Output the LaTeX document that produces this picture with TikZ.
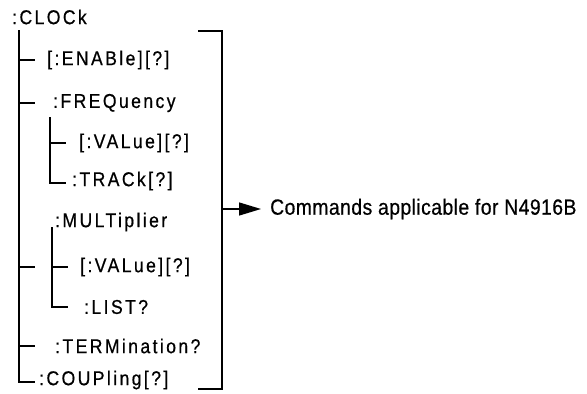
\documentclass[tikz,border=0pt]{standalone}
\usepackage{fontspec}
\setmainfont{Liberation Sans}
\newfontfamily\treefont{Liberation Sans}[LetterSpace=12,FakeStretch=0.88,FakeBold=0.6]
\newfontfamily\notefont{Liberation Sans}[LetterSpace=2,FakeStretch=0.88,FakeBold=0.6]
\usetikzlibrary{arrows.meta}
\begin{document}
\begin{tikzpicture}[x=1pt,y=-1pt,
  cmd/.style={anchor=west,inner sep=0pt,font=\treefont\fontsize{20}{22}\selectfont},
  branch/.style={line width=1.4pt},
  bracketline/.style={line width=2pt},
  note/.style={anchor=west,inner sep=0pt,font=\notefont\fontsize{22}{24}\selectfont}]
\useasboundingbox (0,0) rectangle (587,394);

% command labels
\node[cmd] (clock) at (12,17)  {:CLOCk};
\node[cmd] (enab)  at (47,60)  {[:ENABle][?]};
\node[cmd] (freq)  at (53,103) {:FREQuency};
\node[cmd] (fval)  at (79,143) {[:VALue][?]};
\node[cmd] (trac)  at (72,181) {:TRACk[?]};
\node[cmd] (mult)  at (55,222) {:MULTiplier};
\node[cmd] (mval)  at (80,267) {[:VALue][?]};
\node[cmd] (list)  at (84,307) {:LIST?};
\node[cmd] (term)  at (55,346) {:TERMination?};
\node[cmd] (coup)  at (39,380) {:COUPling[?]};

% main branch
\coordinate (t0) at (19,30);
\coordinate (t1) at (19,60);   \coordinate (e1) at (35,60);
\coordinate (t2) at (19,103);  \coordinate (e2) at (35,103);
\coordinate (t3) at (19,267);  \coordinate (e3) at (35,267);
\coordinate (t4) at (19,346);  \coordinate (e4) at (35,346);
\coordinate (t5) at (19,382);  \coordinate (e5) at (35,382);
\draw[branch] (t0) -- (t5) -- (e5);
\foreach \i in {1,2,3,4} \draw[branch] (t\i) -- (e\i);

% :FREQuency sub-branch
\coordinate (f0) at (50,117);
\coordinate (f1) at (50,143); \coordinate (g1) at (66,143);
\coordinate (f2) at (50,183); \coordinate (g2) at (66,183);
\draw[branch] (f0) -- (f2) -- (g2);
\draw[branch] (f1) -- (g1);

% :MULTiplier sub-branch
\coordinate (m0) at (52,227);
\coordinate (m1) at (52,267); \coordinate (n1) at (68,267);
\coordinate (m2) at (52,307); \coordinate (n2) at (68,307);
\draw[branch] (m0) -- (m2) -- (n2);
\draw[branch] (m1) -- (n1);

% bracket and note
\coordinate (btl) at (198,31);
\coordinate (btr) at (222,31);
\coordinate (bbr) at (222,389);
\coordinate (bbl) at (198,389);
\draw[bracketline,line join=miter] (btl) -- (btr) -- (bbr) -- (bbl);
\coordinate (bmid) at (222,209);
\node[note] (appl) at (270,209) {Commands applicable for N4916B};
\draw[line width=1.4pt,-{Triangle[length=22pt,width=13pt]}] (bmid) -- ([xshift=-9pt]appl.west);
\end{tikzpicture}
\end{document}
